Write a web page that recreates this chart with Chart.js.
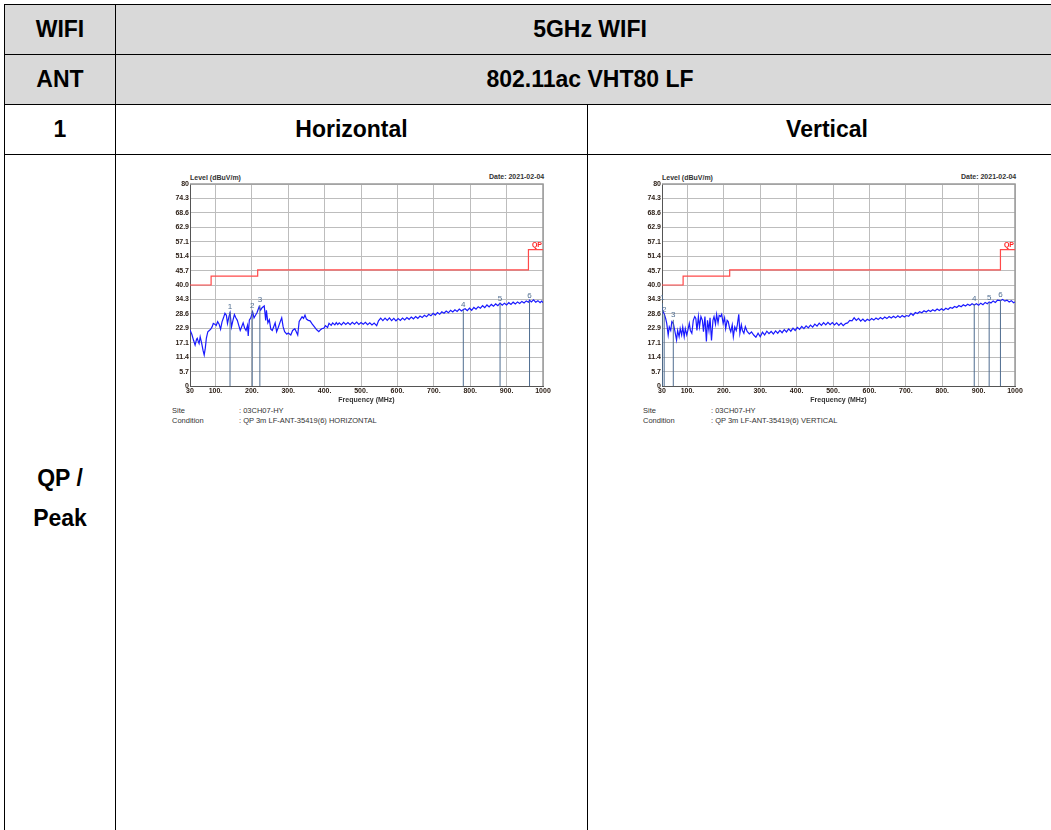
<!DOCTYPE html>
<html>
<head>
<meta charset="utf-8">
<script src="https://cdn.jsdelivr.net/npm/chart.js@4.4.1/dist/chart.umd.min.js"></script>
<style>
  body { margin:0; background:#fff; width:1051px; height:830px; overflow:hidden; position:relative;
         font-family: Arial, "Liberation Sans", sans-serif; }
  .cell { position:absolute; box-sizing:border-box; border:1px solid #000; display:flex;
          align-items:center; justify-content:center; font-weight:bold; font-size:23px; color:#000; text-align:center; }
  .gray { background:#d9d9d9; }
  canvas { position:absolute; }
  .info { position:absolute; font-size:7.5px; color:#333; line-height:10px; white-space:nowrap; }
  .info span { position:absolute; }
  .cap { position:absolute; font-size:7px; font-weight:bold; color:#333; white-space:nowrap; }
</style>
</head>
<body>

<div class="cell gray" style="left:4px;top:4px;width:112px;height:51px;">WIFI</div>
<div class="cell gray" style="left:115px;top:4px;width:950px;height:51px;">5GHz WIFI</div>
<div class="cell gray" style="left:4px;top:54px;width:112px;height:51px;">ANT</div>
<div class="cell gray" style="left:115px;top:54px;width:950px;height:51px;">802.11ac VHT80 LF</div>
<div class="cell" style="left:4px;top:104px;width:112px;height:51px;">1</div>
<div class="cell" style="left:115px;top:104px;width:473px;height:51px;">Horizontal</div>
<div class="cell" style="left:587px;top:104px;width:480px;height:51px;">Vertical</div>
<div class="cell" style="left:4px;top:154px;width:112px;height:688px;line-height:40px;">QP /<br>Peak</div>
<div class="cell" style="left:115px;top:154px;width:473px;height:688px;"></div>
<div class="cell" style="left:587px;top:154px;width:480px;height:688px;"></div>

<!-- horizontal chart -->
<div class="cap" style="left:190px;top:174px;">Level (dBuV/m)</div>
<div class="cap" style="left:489px;top:173px;">Date: 2021-02-04</div>
<canvas id="chartH" width="395" height="234" style="left:160px;top:170px;"></canvas>
<div class="info" style="left:172px;top:406px;">
  <span style="left:0;top:0;">Site</span><span style="left:67px;top:0;">: 03CH07-HY</span>
  <span style="left:0;top:10px;">Condition</span><span style="left:67px;top:10px;">: QP 3m LF-ANT-35419(6) HORIZONTAL</span>
</div>

<!-- vertical chart -->
<div class="cap" style="left:662px;top:174px;">Level (dBuV/m)</div>
<div class="cap" style="left:961px;top:173px;">Date: 2021-02-04</div>
<canvas id="chartV" width="395" height="234" style="left:632px;top:170px;"></canvas>
<div class="info" style="left:643px;top:406px;">
  <span style="left:0;top:0;">Site</span><span style="left:68px;top:0;">: 03CH07-HY</span>
  <span style="left:0;top:10px;">Condition</span><span style="left:68px;top:10px;">: QP 3m LF-ANT-35419(6) VERTICAL</span>
</div>

<script>
// axis ticks
const xTicks = [30, 100, 200, 300, 400, 500, 600, 700, 800, 900, 1000];
const xTickLabels = ['30', '100.', '200.', '300.', '400.', '500.', '600.', '700.', '800.', '900.', '1000'];
const yTicks = [0, 5.7, 11.4, 17.1, 22.9, 28.6, 34.3, 40.0, 45.7, 51.4, 57.1, 62.9, 68.6, 74.3, 80];
const yTickLabels = ['0', '5.7', '11.4', '17.1', '22.9', '28.6', '34.3', '40.0', '45.7', '51.4', '57.1', '62.9', '68.6', '74.3', '80'];

// QP limit (MHz, dBuV/m), stepped
const limitFreq  = [30, 88, 216, 960, 1000];
const limitLevel = [40, 43.5, 46, 54, 54];

// markers
const hMarkerFreq  = [140, 201, 222, 781, 882, 963];
const hMarkerLevel = [29.4, 29.8, 32.0, 30.1, 32.7, 33.6];
const vMarkerFreq  = [31, 36, 61, 888, 929, 960];
const vMarkerLevel = [32.8, 28.3, 26.2, 32.5, 33.0, 34.0];

// measured trace [MHz, dBuV/m]
const hTrace = [
  [30,22.2],[35,20.5],[40,18],[44,16.2],[48,18.5],[50,18.9],[53,17.5],[55,16.8],[58,19.5],[62,17],
  [66,14],[69,12.3],[72,15],[75,19],[79,21.5],[83,22],[87,22.5],[91,23.5],[94,24.8],[98,24.5],
  [102,24],[106,25.5],[110,24.5],[114,22.5],[118,25.4],[122,27],[126,28.8],[130,28],[133,24.8],[137,27.5],
  [140,29],[144,23.4],[148,26],[152,28.3],[156,27],[160,26],[164,24],[168,22],[172,23.5],[176,25],
  [180,23],[184,22],[188,24],[190,19.8],[193,26.1],[197,27],[202,29.4],[206,27],[210,28],[214,29],
  [220,31.4],[224,30],[228,31],[234,31.7],[238,26],[240,30],[244,25],[248,26.2],[252,22.5],[256,22],
  [260,23.5],[264,25],[268,21.5],[272,23],[278,25.5],[282,27],[286,23.4],[290,21.5],[296,20.5],[300,21],
  [307,20.2],[312,22],[318,22.7],[322,21.5],[326,20.2],[330,25.6],[334,26.5],[338,27.4],[342,26.8],[346,28.1],
  [350,26.5],[355,26],[360,25.8],[366,24.5],[372,23.4],[376,22.6],[379,22.2],[384,21.5],[388,22.2],[392,22.7],
  [398,22.9],[402,23.9],[408,23.2],[412,24.8],[418,24.0],[422,25.0],[428,24.2],[432,25.1],[436,24.3],[440,25.0],
  [446,24.2],[452,25.2],[458,24.4],[464,25.1],[470,24.3],[476,25.2],[482,24.5],[488,25.3],[494,24.4],[500,25.1],
  [506,24.5],[512,25.2],[518,24.3],[524,25.0],[530,24.2],[536,24.9],[543,23.9],[548,25.8],[554,26.9],[560,25.9],
  [566,26.9],[572,26.0],[578,27.0],[584,25.9],[590,26.8],[596,25.8],[602,26.7],[608,26.0],[614,26.9],[620,26.2],
  [626,27.1],[632,26.4],[638,27.3],[644,26.6],[650,27.5],[656,26.8],[662,27.7],[668,27.1],[674,28.0],[680,27.4],
  [686,28.4],[692,27.8],[698,28.8],[704,28.1],[710,29.1],[716,28.4],[722,29.4],[728,28.8],[734,29.7],[740,29.0],
  [746,30.0],[752,29.3],[758,30.2],[764,29.5],[770,30.5],[776,29.7],[781,30.3],[786,30.6],[792,29.8],[798,30.8],
  [804,30.0],[810,31.1],[816,30.4],[822,31.4],[828,30.8],[834,31.8],[840,31.0],[846,32.1],[852,31.3],[858,32.3],
  [864,31.6],[870,32.5],[876,31.8],[882,32.8],[888,32.0],[894,32.8],[900,32.1],[906,33.0],[912,32.3],[918,33.2],
  [924,32.5],[930,33.3],[936,32.7],[942,33.5],[948,32.9],[954,33.7],[960,33.2],[963,34.0],[968,33.3],[974,34.1],
  [980,33.2],[986,33.8],[992,33.0],[996,33.6],[1000,33.0]
];
const vTrace = [
  [30,30.8],[33,29.5],[36,28.6],[40,26.8],[43,24.8],[47,20.2],[50,23.4],[54,22],[57,25.5],[61,24.8],
  [65,22],[70,18.2],[73,22],[77,19.5],[80,22.7],[84,20.2],[87,23.4],[91,19.5],[94,22.7],[98,20.2],
  [101,22],[105,24.8],[108,22],[112,20.9],[116,26],[120,27.5],[123,26.8],[126,22],[130,27.5],[133,23.4],
  [137,27.5],[141,26],[144,21.5],[148,27.5],[152,17.6],[155,26],[159,22],[162,27],[166,18],[170,26],
  [173,27.5],[177,24.5],[180,28.4],[184,25],[187,28],[191,27.5],[194,28.4],[198,24.8],[202,27],[205,22.7],
  [209,26],[212,25.5],[216,22.7],[219,21.5],[223,24.2],[226,19.5],[230,23.4],[234,22],[237,24.2],[241,28.4],
  [244,20.9],[248,24.2],[251,22],[255,20.9],[259,23.5],[264,21.6],[270,20.6],[276,21.4],[282,20.2],[288,19.3],
  [294,20.9],[300,19.5],[306,21.3],[312,20.2],[318,21.7],[324,20.7],[330,21.6],[336,20.6],[342,21.8],[348,20.9],
  [354,22.0],[360,21.1],[366,22.3],[372,21.4],[378,22.6],[384,21.7],[390,22.9],[396,22.0],[402,23.2],[408,22.4],
  [414,23.6],[420,22.7],[426,23.8],[432,23.0],[438,24.1],[444,23.3],[450,24.5],[456,23.7],[462,24.9],[468,24.0],
  [474,25.1],[480,24.2],[486,25.2],[492,24.3],[498,25.1],[504,24.2],[510,25.0],[516,24.0],[522,24.9],[528,23.9],
  [534,24.7],[540,25.0],[546,26.0],[552,25.8],[558,27.0],[564,26.0],[570,26.8],[576,25.7],[582,26.5],[588,25.6],
  [594,26.4],[600,25.9],[606,26.7],[612,26.1],[618,26.9],[624,26.3],[630,27.1],[636,26.5],[642,27.3],[648,26.7],
  [654,27.5],[660,26.9],[666,27.6],[672,27.0],[678,27.8],[684,27.1],[690,27.9],[696,27.3],[702,27.9],[708,27.6],
  [714,28.8],[720,28.0],[726,29.1],[732,28.7],[738,29.4],[744,29.0],[750,29.8],[756,29.3],[762,30.0],[768,29.5],
  [774,30.2],[780,29.7],[786,30.5],[792,29.9],[798,30.6],[804,30.0],[810,30.8],[816,30.3],[822,31.1],[828,30.8],
  [834,31.5],[840,31.1],[846,31.9],[852,31.4],[858,32.2],[864,31.7],[870,32.4],[876,31.9],[882,32.6],[888,32.1],
  [894,32.6],[900,32.0],[906,32.8],[912,32.2],[918,33.1],[924,32.6],[929,33.3],[934,32.9],[940,33.7],[946,33.1],
  [952,34.0],[960,33.8],[966,34.3],[972,33.6],[978,34.0],[984,33.3],[990,33.8],[996,33.0],[1000,33.3]
];

const tickFont = { family: 'Arial, "Liberation Sans", sans-serif', size: 7, weight: 'bold' };
const tickColor = '#2e2118';
const gridColor = '#bdbdbd';
const markerColor = '#4f6d90';

// marker numbers, QP tag and plot frame
const overlayPlugin = {
  id: 'overlay',
  beforeDatasetsDraw(chart) {
    const a = chart.chartArea, ctx = chart.ctx;
    ctx.save();
    ctx.strokeStyle = '#9a9a9a';
    ctx.lineWidth = 1.5;
    ctx.beginPath();
    ctx.moveTo(a.left, a.top); ctx.lineTo(a.right, a.top); ctx.lineTo(a.right, a.bottom);
    ctx.stroke();
    ctx.restore();
  },
  afterDatasetsDraw(chart, args, opts) {
    const ctx = chart.ctx, xs = chart.scales.x, ys = chart.scales.y;
    ctx.save();
    ctx.font = '8px Arial, "Liberation Sans", sans-serif';
    ctx.fillStyle = markerColor;
    ctx.textAlign = 'center';
    ctx.textBaseline = 'bottom';
    opts.freq.forEach((f, i) => {
      ctx.fillText(String(i + 1), xs.getPixelForValue(f), ys.getPixelForValue(opts.level[i]) - 1);
    });
    ctx.font = 'bold 7px Arial, "Liberation Sans", sans-serif';
    ctx.fillStyle = '#ff2020';
    ctx.textAlign = 'right';
    ctx.fillText('QP', chart.chartArea.right - 1, ys.getPixelForValue(limitLevel[limitLevel.length - 1]) - 1);
    ctx.restore();
  }
};

function makeChart(id, trace, mFreq, mLevel) {
  const markerSets = mFreq.map((f, i) => ({
    data: [{ x: f, y: 0 }, { x: f, y: mLevel[i] }],
    borderColor: markerColor, borderWidth: 1, pointRadius: 0
  }));
  new Chart(document.getElementById(id), {
    type: 'line',
    data: {
      datasets: [
        { data: limitFreq.map((f, i) => ({ x: f, y: limitLevel[i] })), borderColor: '#ff4a4a', borderWidth: 1.2, stepped: true, pointRadius: 0 },
        ...markerSets,
        { data: trace.map(p => ({ x: p[0], y: p[1] })), borderColor: '#1a1aff', borderWidth: 1.2, pointRadius: 0, tension: 0 }
      ]
    },
    options: {
      responsive: false,
      animation: false,
      layout: { padding: { left: 0, right: 12, top: 14, bottom: 0 } },
      plugins: {
        legend: { display: false },
        tooltip: { enabled: false },
        overlay: { freq: mFreq, level: mLevel }
      },
      scales: {
        x: {
          type: 'linear', min: 30, max: 1000,
          afterBuildTicks: s => { s.ticks = xTicks.map(v => ({ value: v })); },
          afterFit: s => { s.height = 18; },
          ticks: { callback: (v, i) => xTickLabels[i], autoSkip: false, maxRotation: 0, font: tickFont, color: tickColor, padding: 1 },
          grid: { color: gridColor, drawTicks: false },
          border: { color: '#555', width: 1 },
          title: { display: true, text: 'Frequency (MHz)', font: tickFont, color: '#333', padding: 0 }
        },
        y: {
          type: 'linear', min: 0, max: 80,
          afterBuildTicks: s => { s.ticks = yTicks.map(v => ({ value: v })); },
          afterFit: s => { s.width = 30; },
          ticks: { callback: (v, i) => yTickLabels[i], autoSkip: false, font: tickFont, color: tickColor, padding: 1 },
          grid: { color: gridColor, drawTicks: false },
          border: { color: '#555', width: 1 }
        }
      }
    },
    plugins: [overlayPlugin]
  });
}

makeChart('chartH', hTrace, hMarkerFreq, hMarkerLevel);
makeChart('chartV', vTrace, vMarkerFreq, vMarkerLevel);
</script>
</body>
</html>
